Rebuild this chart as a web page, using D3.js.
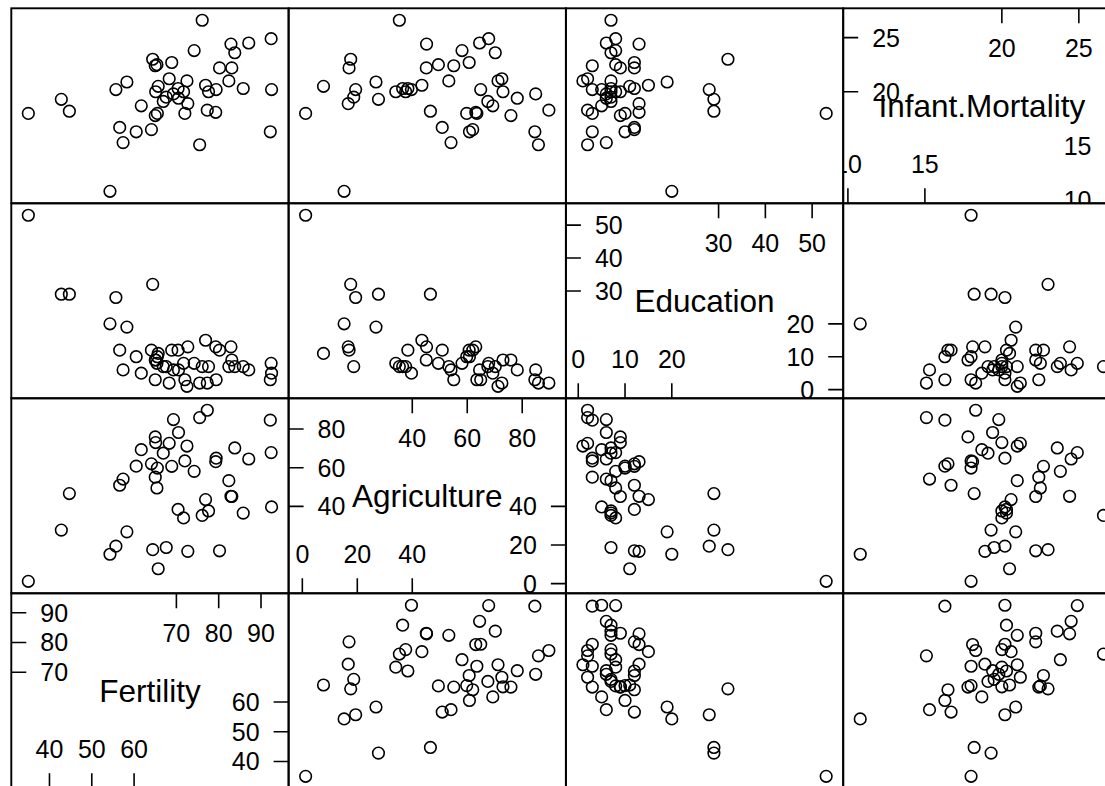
<!DOCTYPE html>
<html><head><meta charset="utf-8">
<script src="https://cdn.jsdelivr.net/npm/d3@7"></script>
<style>body{margin:0;background:#fff}svg{display:block}</style>
</head><body><svg id="c" width="1105" height="786"></svg>
<script>
// Swiss fertility data (47 provinces)
const provinces = ["Courtelary","Delemont","Franches-Mnt","Moutier","Neuveville","Porrentruy","Broye","Glane","Gruyere","Sarine","Veveyse","Aigle","Aubonne","Avenches","Cossonay","Echallens","Grandson","Lausanne","La Vallee","Lavaux","Morges","Moudon","Nyone","Orbe","Oron","Payerne","Paysd'enhaut","Rolle","Vevey","Yverdon","Conthey","Entremont","Herens","Martigwy","Monthey","St Maurice","Sierre","Sion","Boudry","La Chauxdfnd","Le Locle","Neuchatel","Val de Ruz","ValdeTravers","V. De Geneve","Rive Droite","Rive Gauche"];
const fertility = [80.2,83.1,92.5,85.8,76.9,76.1,83.8,92.4,82.4,82.9,87.1,64.1,66.9,68.9,61.7,68.3,71.7,55.7,54.3,65.1,65.5,65.0,56.6,57.4,72.5,74.2,72.0,60.5,58.3,65.4,75.5,69.3,77.3,70.5,79.4,65.0,92.2,79.3,70.4,65.7,72.7,64.4,77.6,67.6,35.0,44.7,42.8];
const agriculture = [17.0,45.1,39.7,36.5,43.5,35.3,70.2,67.8,53.3,45.2,64.5,62.0,67.5,60.7,69.3,72.6,34.0,19.4,15.2,73.0,59.8,55.1,50.9,54.1,71.2,58.1,63.5,60.8,26.8,49.5,85.9,84.9,89.7,78.2,64.9,75.9,84.6,63.1,38.4,7.7,16.7,17.6,37.6,18.7,1.2,46.6,27.7];
const education = [12,9,5,7,15,7,7,8,7,13,6,12,7,12,5,2,8,28,20,9,10,3,12,6,1,8,3,10,19,8,2,6,2,6,3,9,3,13,12,11,13,32,7,7,53,29,29];
const infantMortality = [22.2,22.2,20.2,20.3,20.6,26.6,23.6,24.9,21.0,24.4,24.5,16.5,19.1,22.7,18.7,21.2,20.0,20.2,10.8,20.0,18.0,22.4,16.7,15.3,21.0,23.8,18.0,16.3,20.9,22.5,15.1,19.8,18.3,19.4,20.2,17.8,16.3,18.1,20.3,20.5,18.9,23.0,20.0,19.5,18.0,18.2,19.3];

const varNames = ["Fertility","Agriculture","Education","Infant.Mortality"];
const varValues = [fertility, agriculture, education, infantMortality];
const varTicks = [[40,50,60,70,80,90],[0,20,40,60,80],[0,10,20,30,40,50],[10,15,20,25]];

// layout
const L0 = 11.3, T0 = 8.3, pw = 277.3, ph = 195;
const tickLen = 15, tickFs = 25, nameFs = 31.5;
const font = "'Liberation Sans', Arial, Helvetica, sans-serif";

const svg = d3.select("#c");
const nv = varNames.length;

const lims = varValues.map(v => {
  const [a,b] = d3.extent(v); const p = (b-a)*0.07; return [a-p, b+p];
});

function xScale(j){ return d3.scaleLinear().domain(lims[j]).range([L0+j*pw, L0+(j+1)*pw]); }
function yScale(v){ const r = nv-1-v; return d3.scaleLinear().domain(lims[v]).range([T0+(r+1)*ph, T0+r*ph]); }

const defs = svg.append("defs");

for (let v = 0; v < nv; v++) {        // row variable (y)
  const r = nv-1-v;
  for (let j = 0; j < nv; j++) {      // column variable (x)
    const x0 = L0 + j*pw, y0 = T0 + r*ph, x1 = x0+pw, y1 = y0+ph;
    const id = `clip-${v}-${j}`;
    defs.append("clipPath").attr("id", id).append("rect")
      .attr("x", x0).attr("y", y0).attr("width", pw).attr("height", ph);
    const g = svg.append("g").attr("clip-path", `url(#${id})`);
    const xs = xScale(j), ys = yScale(v);
    if (v === j) {
      const ticks = varTicks[v], n = ticks.length;
      const lower = ticks.slice(0, Math.ceil(n/2));
      const upper = ticks.slice(Math.floor(n/2));
      const ax = g.append("g").attr("stroke","#000").attr("stroke-width",1.6);
      const tx = g.append("g").attr("font-family",font).attr("font-size",tickFs).attr("fill","#000");
      lower.forEach(t => {
        ax.append("line").attr("x1",xs(t)).attr("x2",xs(t)).attr("y1",y1).attr("y2",y1-tickLen);
        tx.append("text").attr("x",xs(t)).attr("y",y1-30.6).attr("text-anchor","middle").text(t);
      });
      upper.forEach(t => {
        ax.append("line").attr("x1",x0).attr("x2",x0+tickLen).attr("y1",ys(t)).attr("y2",ys(t));
        tx.append("text").attr("x",x0+29).attr("y",ys(t)+0.358*tickFs).attr("text-anchor","start").text(t);
      });
      upper.forEach(t => {
        ax.append("line").attr("x1",xs(t)).attr("x2",xs(t)).attr("y1",y0).attr("y2",y0+tickLen);
        tx.append("text").attr("x",xs(t)).attr("y",y0+31+0.716*tickFs).attr("text-anchor","middle").text(t);
      });
      lower.forEach(t => {
        ax.append("line").attr("x1",x1).attr("x2",x1-tickLen).attr("y1",ys(t)).attr("y2",ys(t));
        tx.append("text").attr("x",x1-29).attr("y",ys(t)+0.358*tickFs).attr("text-anchor","end").text(t);
      });
      g.append("text").attr("x",(x0+x1)/2).attr("y",(y0+y1)/2+0.358*nameFs)
        .attr("text-anchor","middle").attr("font-family",font).attr("font-size",nameFs)
        .attr("fill","#000").text(varNames[v]);
    } else {
      const xv = varValues[j], yv = varValues[v];
      g.selectAll("circle").data(d3.range(xv.length)).join("circle")
        .attr("cx", i => xs(xv[i])).attr("cy", i => ys(yv[i])).attr("r", 5.8)
        .attr("fill","none").attr("stroke","#000").attr("stroke-width",1.6);
    }
    svg.append("rect").attr("x",x0).attr("y",y0).attr("width",pw).attr("height",ph)
      .attr("fill","none").attr("stroke","#000").attr("stroke-width",1.9);
  }
}
</script></body></html>
